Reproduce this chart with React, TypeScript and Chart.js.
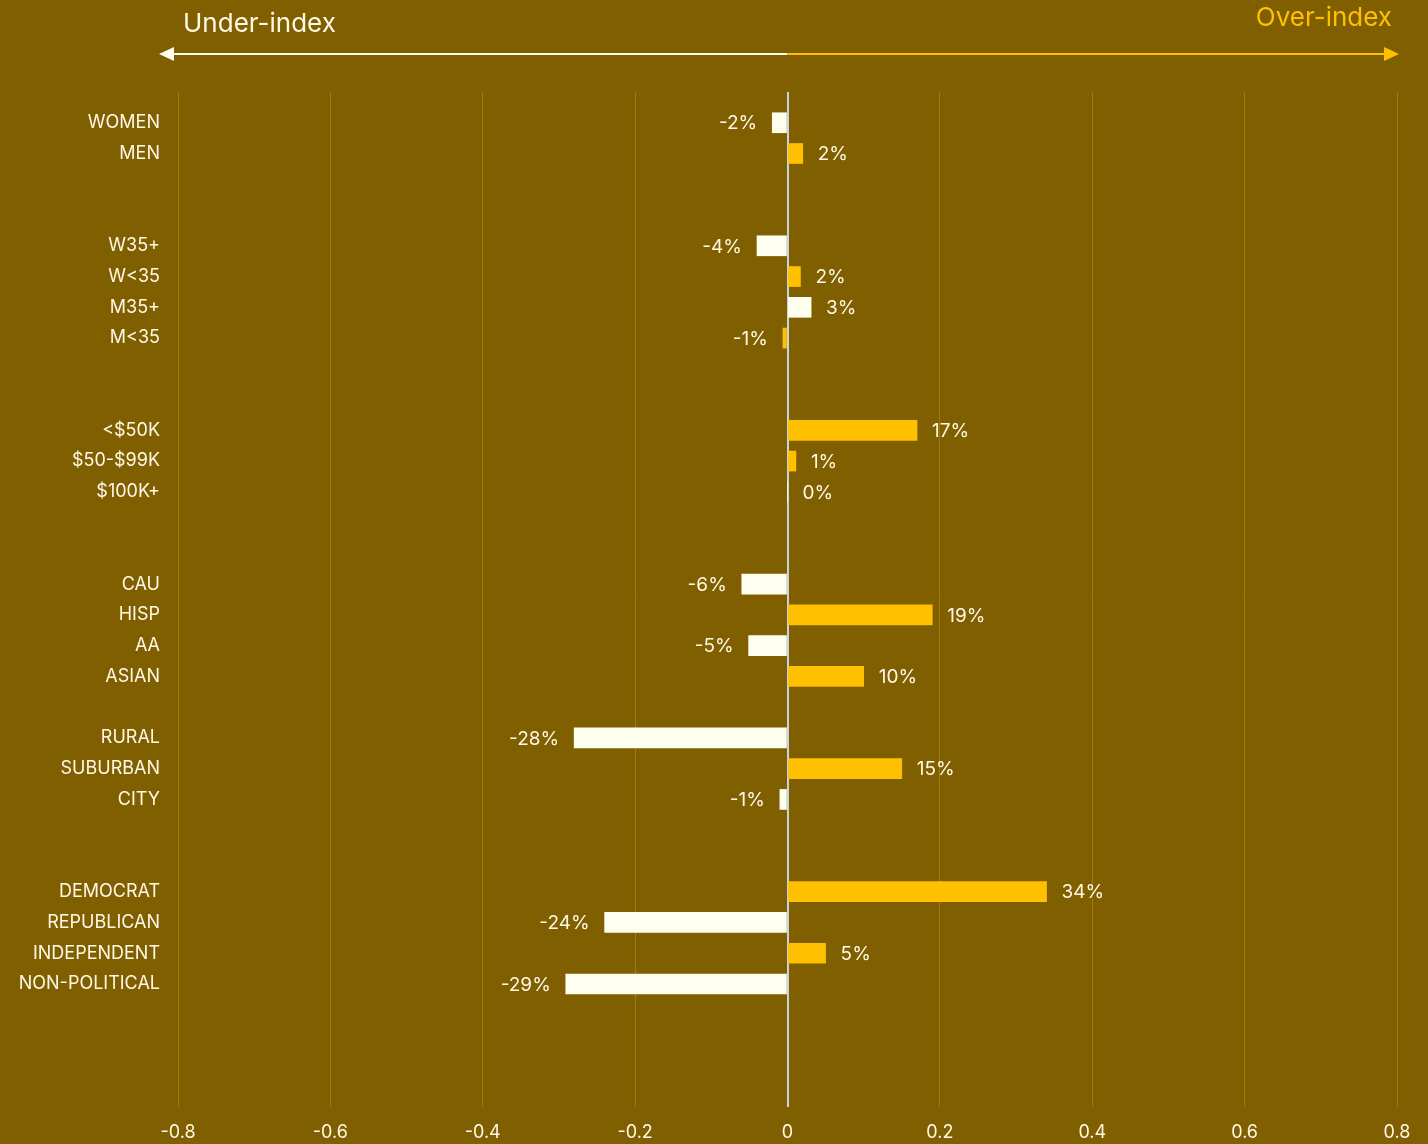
import React, { useEffect, useRef } from "react";
import { Chart, registerables } from "chart.js";

Chart.register(...registerables);

const categories: string[] = [
  "", "WOMEN", "MEN", "", "", "W35+", "W<35", "M35+", "M<35", "", "",
  "<$50K", "$50-$99K", "$100K+", "", "", "CAU", "HISP", "AA", "ASIAN", "",
  "RURAL", "SUBURBAN", "CITY", "", "", "DEMOCRAT", "REPUBLICAN", "INDEPENDENT",
  "NON-POLITICAL", "", "", "", "",
];

const values: (number | null)[] = [
  null, -0.02, 0.02, null, null, -0.04, 0.017, 0.031, -0.006, null, null,
  0.17, 0.011, 0.0, null, null, -0.06, 0.19, -0.051, 0.1, null,
  -0.28, 0.15, -0.01, null, null, 0.34, -0.24, 0.05, -0.291, null, null, null, null,
];

const valueLabels: string[] = [
  "", "-2%", "2%", "", "", "-4%", "2%", "3%", "-1%", "", "",
  "17%", "1%", "0%", "", "", "-6%", "19%", "-5%", "10%", "",
  "-28%", "15%", "-1%", "", "", "34%", "-24%", "5%", "-29%", "", "", "", "",
];

// "w" = ivory bar, "y" = yellow bar
const barTone: string[] = [
  "", "w", "y", "", "", "w", "y", "w", "y", "", "",
  "y", "y", "w", "", "", "w", "y", "w", "y", "",
  "w", "y", "w", "", "", "y", "w", "y", "w", "", "", "", "",
];

const xTicks: number[] = [-0.8, -0.6, -0.4, -0.2, 0, 0.2, 0.4, 0.6, 0.8];

const BG = "#7F5F00";
const YELLOW = "#FFC000";
const IVORY = "#FFFFF0";
const TEXT = "#FFF8E6";
const GRID = "#A37B00";
const ZERO = "#C8D4DC";
const FONT = "Inter, 'Noto Sans', sans-serif";

const decorPlugin = {
  id: "decor",
  afterDatasetsDraw(chart: any) {
    const ctx = chart.ctx;
    const meta = chart.getDatasetMeta(0);
    ctx.save();
    ctx.font = `19px ${FONT}`;
    ctx.fillStyle = TEXT;
    ctx.textBaseline = "middle";
    meta.data.forEach((el: any, i: number) => {
      const v = values[i];
      if (v === null || v === undefined) return;
      const label = valueLabels[i];
      if (v >= 0) {
        ctx.textAlign = "left";
        ctx.fillText(label, el.x + 15, el.y + 1);
      } else {
        ctx.textAlign = "right";
        ctx.fillText(label, el.x - 15, el.y + 1);
      }
    });
    ctx.restore();
  },
  afterDraw(chart: any) {
    const ctx = chart.ctx;
    const xs = chart.scales.x;
    const x0 = xs.getPixelForValue(0);
    const left = xs.getPixelForValue(-0.8) - 19;
    const right = xs.getPixelForValue(0.8) + 2;
    const y = 54;
    ctx.save();
    // left arrow
    ctx.strokeStyle = IVORY;
    ctx.lineWidth = 2;
    ctx.beginPath();
    ctx.moveTo(x0, y);
    ctx.lineTo(left + 12, y);
    ctx.stroke();
    ctx.fillStyle = IVORY;
    ctx.beginPath();
    ctx.moveTo(left, y);
    ctx.lineTo(left + 15, y - 7);
    ctx.lineTo(left + 15, y + 7);
    ctx.closePath();
    ctx.fill();
    // right arrow
    ctx.strokeStyle = YELLOW;
    ctx.beginPath();
    ctx.moveTo(x0, y);
    ctx.lineTo(right - 12, y);
    ctx.stroke();
    ctx.fillStyle = YELLOW;
    ctx.beginPath();
    ctx.moveTo(right, y);
    ctx.lineTo(right - 15, y - 7);
    ctx.lineTo(right - 15, y + 7);
    ctx.closePath();
    ctx.fill();
    // texts
    ctx.font = `26px ${FONT}`;
    ctx.textBaseline = "middle";
    ctx.textAlign = "left";
    ctx.fillStyle = TEXT;
    ctx.fillText("Under-index", 183, 24);
    ctx.textAlign = "right";
    ctx.fillStyle = YELLOW;
    ctx.fillText("Over-index", 1392, 18);
    ctx.restore();
  },
};

export default function App() {
  const ref = useRef<HTMLCanvasElement | null>(null);

  useEffect(() => {
    if (!ref.current) return;
    const chart = new Chart(ref.current, {
      type: "bar",
      data: {
        labels: categories,
        datasets: [
          {
            data: values as any,
            backgroundColor: barTone.map((t) => (t === "y" ? YELLOW : IVORY)),
            barThickness: 20,
            borderWidth: 0,
          },
        ],
      },
      options: {
        indexAxis: "y",
        animation: false,
        responsive: false,
        maintainAspectRatio: false,
        layout: { padding: { top: 92, right: 31, left: 0, bottom: 0 } },
        plugins: {
          legend: { display: false },
          tooltip: { enabled: false },
          title: { display: false },
        },
        scales: {
          x: {
            type: "linear",
            min: -0.8,
            max: 0.8,
            afterBuildTicks: (scale: any) => {
              scale.ticks = xTicks.map((v) => ({ value: v }));
            },
            afterFit: (scale: any) => {
              scale.height = 37;
            },
            grid: {
              drawTicks: false,
              color: (c: any) => (c.tick && c.tick.value === 0 ? ZERO : GRID),
              lineWidth: (c: any) => (c.tick && c.tick.value === 0 ? 2 : 1),
            },
            border: { display: false },
            ticks: {
              padding: 15,
              color: TEXT,
              font: { family: FONT, size: 18 },
              callback: (v: any) => (Number(v) === 0 ? "0" : Number(v).toFixed(1)),
            },
          },
          y: {
            type: "category",
            offset: false,
            afterFit: (scale: any) => {
              scale.width = 178;
            },
            grid: { display: false, drawTicks: false },
            border: { display: false },
            ticks: {
              padding: 18,
              autoSkip: false,
              color: TEXT,
              font: { family: FONT, size: 18 },
            },
          },
        },
      },
      plugins: [decorPlugin],
    });
    return () => chart.destroy();
  }, []);

  return (
    <div
      style={{
        position: "fixed",
        left: 0,
        top: 0,
        width: 1428,
        height: 1144,
        background: BG,
      }}
    >
      <canvas ref={ref} width={1428} height={1144} style={{ display: "block" }} />
    </div>
  );
}
